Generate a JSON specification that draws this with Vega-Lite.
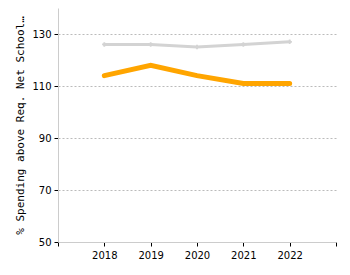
{
  "$schema": "https://vega.github.io/schema/vega-lite/v6.json",
  "autosize": "none",
  "width": 278,
  "height": 234,
  "padding": {"left": 58, "top": 8, "right": 14, "bottom": 33},
  "background": "white",
  "config": {
    "view": {"stroke": null},
    "font": "DejaVu Sans"
  },
  "data": {
    "values": [
      {"year": 2018, "series": "Benchmark", "pct": 126},
      {"year": 2019, "series": "Benchmark", "pct": 126},
      {"year": 2020, "series": "Benchmark", "pct": 125},
      {"year": 2021, "series": "Benchmark", "pct": 126},
      {"year": 2022, "series": "Benchmark", "pct": 127},
      {"year": 2018, "series": "District", "pct": 114},
      {"year": 2019, "series": "District", "pct": 118},
      {"year": 2020, "series": "District", "pct": 114},
      {"year": 2021, "series": "District", "pct": 111},
      {"year": 2022, "series": "District", "pct": 111}
    ]
  },
  "encoding": {
    "x": {
      "field": "year",
      "type": "quantitative",
      "scale": {"domain": [2017, 2023], "nice": false, "zero": false},
      "axis": {
        "title": null,
        "values": [2017, 2018, 2019, 2020, 2021, 2022, 2023],
        "labelExpr": "datum.value == 2017 || datum.value == 2023 ? '' : datum.value",
        "grid": false,
        "domainColor": "#cccccc",
        "tickColor": "#000000",
        "tickSize": 4,
        "labelFontSize": 10,
        "labelColor": "#000000",
        "labelPadding": 4
      }
    },
    "y": {
      "field": "pct",
      "type": "quantitative",
      "scale": {"domain": [50, 140], "nice": false, "zero": false},
      "axis": {
        "title": "% Spending above Req. Net School…",
        "titleFont": "DejaVu Sans Mono",
        "titleFontSize": 11,
        "titleFontWeight": "normal",
        "titleColor": "#000000",
        "titlePadding": 6,
        "values": [50, 70, 90, 110, 130],
        "grid": true,
        "gridDash": [2, 2],
        "gridColor": "#bbbbbb",
        "domainColor": "#cccccc",
        "tickColor": "#000000",
        "tickSize": 4,
        "labelFontSize": 10,
        "labelColor": "#000000",
        "labelPadding": 3
      }
    },
    "color": {
      "field": "series",
      "type": "nominal",
      "scale": {"domain": ["Benchmark", "District"], "range": ["#d3d3d3", "#ffa500"]},
      "legend": null
    },
    "strokeWidth": {
      "field": "series",
      "type": "nominal",
      "scale": {"domain": ["Benchmark", "District"], "range": [3, 5]},
      "legend": null
    }
  },
  "layer": [
    {"mark": {"type": "line", "strokeCap": "round"}},
    {
      "transform": [{"filter": "datum.series == 'Benchmark'"}],
      "mark": {"type": "point", "shape": "cross", "filled": true, "size": 20, "opacity": 1}
    }
  ]
}
